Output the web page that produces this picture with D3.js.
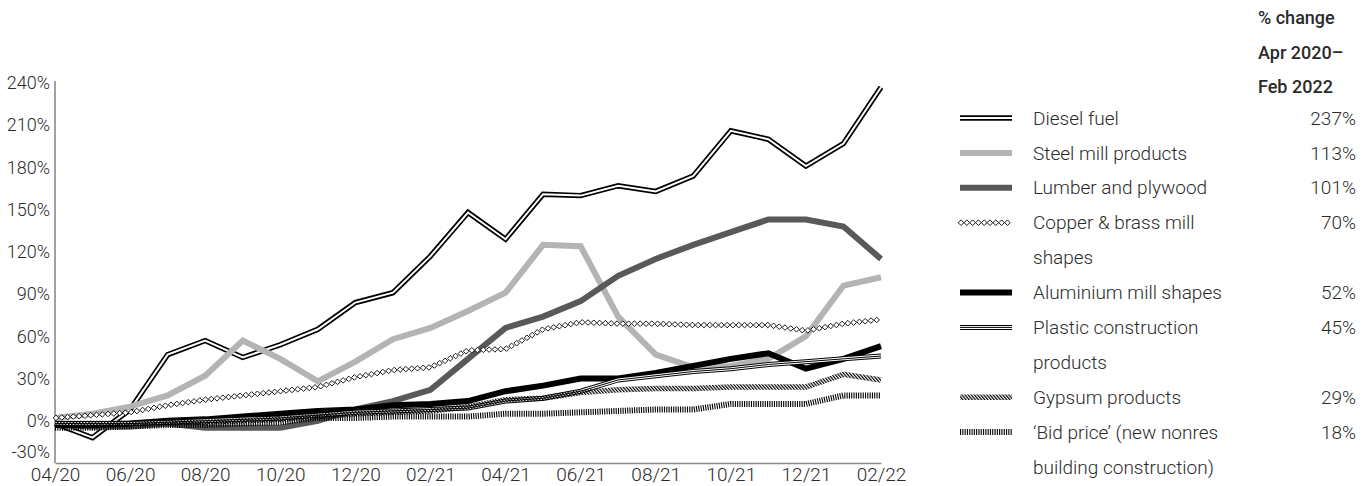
<!DOCTYPE html>
<html>
<head>
<meta charset="utf-8">
<script src="https://cdn.jsdelivr.net/npm/d3@7"></script>
<style>
  body { margin: 0; background: #fff; }
  svg text { font-family: Roboto, "DejaVu Sans", sans-serif; fill: #2b2b2b; }
</style>
</head>
<body>
<div class="chart"></div>
<script>
const width = 1372;
const height = 486;

// month labels, Apr 2020 .. Feb 2022
const months = ['04/20','05/20','06/20','07/20','08/20','09/20','10/20','11/20','12/20','01/21','02/21','03/21',
  '04/21','05/21','06/21','07/21','08/21','09/21','10/21','11/21','12/21','01/22','02/22'];
const xTickLabels = ['04/20','06/20','08/20','10/20','12/20','02/21','04/21','06/21','08/21','10/21','12/21','02/22'];
const yTicks = [-30, 0, 30, 60, 90, 120, 150, 180, 210, 240];

// % change since Apr 2020
const diesel    = [-2, -12, 8, 47, 57, 45, 54, 65, 84, 91, 117, 148, 129, 161, 160, 167, 163, 174, 206, 200, 181, 197, 237];
const steel     = [2, 5, 10, 18, 32, 57, 44, 28, 42, 58, 66, 78, 91, 125, 124, 74, 47, 38, 39, 44, 60, 96, 102];
const lumber    = [-3, -4, -4, -2, -5, -5, -5, 0, 8, 14, 22, 44, 66, 74, 85, 103, 115, 125, 134, 143, 143, 138, 115];
const copper    = [2, 4, 6, 11, 15, 18, 21, 24, 31, 36, 38, 50, 51, 65, 70, 69, 69, 68, 68, 68, 64, 69, 72];
const aluminium = [-3, -3, -2, 0, 1, 3, 5, 7, 8, 11, 12, 14, 21, 25, 30, 30, 34, 39, 44, 48, 37, 44, 53];
const plastic   = [-2, -2, -2, -1, 0, 1, 2, 4, 6, 7, 8, 9, 14, 16, 21, 29, 32, 35, 37, 40, 42, 44, 46];
const gypsum    = [-2, -2, -2, -1, -1, 0, 1, 3, 5, 6, 7, 10, 15, 16, 20, 22, 23, 23, 24, 24, 24, 33, 29];
const bidPrice  = [-5, -5, -4, -3, -3, -2, -1, 2, 2, 3, 3, 3, 5, 5, 6, 7, 8, 8, 12, 12, 12, 18, 18];

const legendNames = [['Diesel fuel'], ['Steel mill products'], ['Lumber and plywood'], ['Copper & brass mill', 'shapes'],
  ['Aluminium mill shapes'], ['Plastic construction', 'products'], ['Gypsum products'],
  ['\u2018Bid price\u2019 (new nonres', 'building construction)']];
const legendChanges = ['237%', '113%', '101%', '70%', '52%', '45%', '29%', '18%'];

const series = [
  { name: 'diesel', values: diesel, style: 'double' },
  { name: 'steel', values: steel, style: 'light' },
  { name: 'lumber', values: lumber, style: 'dark' },
  { name: 'copper', values: copper, style: 'diamond' },
  { name: 'aluminium', values: aluminium, style: 'black' },
  { name: 'plastic', values: plastic, style: 'triple' },
  { name: 'gypsum', values: gypsum, style: 'diag' },
  { name: 'bid', values: bidPrice, style: 'tick' }
];

const svg = d3.select('.chart').append('svg')
  .attr('width', width)
  .attr('height', height);

const defs = svg.append('defs');
defs.append('pattern')
  .attr('id', 'diag')
  .attr('patternUnits', 'userSpaceOnUse')
  .attr('width', 2.4).attr('height', 10)
  .attr('patternTransform', 'rotate(-40)')
  .append('rect')
  .attr('width', 1.2).attr('height', 10)
  .attr('fill', '#000');

const x = d3.scaleLinear().domain([0, 22]).range([55, 881]);
const y = d3.scaleLinear().domain([-30, 240]).range([463, 83]);

// axes
const yAxis = svg.append('g')
  .attr('transform', 'translate(55,0)')
  .call(d3.axisLeft(y).tickValues(yTicks).tickSize(0).tickPadding(5).tickFormat(d => d + '%'));
yAxis.select('.domain').attr('stroke', '#444').attr('stroke-width', 1).attr('d', `M0,${y(240) - 2}V${y(-30)}`);
yAxis.selectAll('text').style('font-size', '18px').style('font-weight', 300).attr('font-family', null);
yAxis.selectAll('.tick').filter(d => d === -30).select('text').attr('dy', '-0.3em');

const xAxis = svg.append('g')
  .attr('transform', `translate(0,${y(-30)})`)
  .call(d3.axisBottom(x).tickValues(d3.range(0, 23, 2)).tickSize(0).tickPadding(4)
    .tickFormat((d, i) => xTickLabels[i]));
xAxis.select('.domain').attr('stroke', '#8a8a8a').attr('stroke-width', 1.5);
xAxis.selectAll('text').style('font-size', '19px').style('font-weight', 300).attr('font-family', null);

const line = d3.line()
  .x((d, i) => x(i))
  .y(d => y(d));

function drawStyled(g, d, style) {
  const add = (stroke, w, extra) => {
    const p = g.append('path').attr('d', d).attr('fill', 'none')
      .attr('stroke', stroke).attr('stroke-width', w)
      .attr('stroke-linejoin', 'miter').attr('stroke-miterlimit', 3);
    if (extra) extra(p);
    return p;
  };
  if (style === 'double') {
    add('#000', 5.4);
    add('#fff', 2);
  } else if (style === 'light') {
    add('#b4b4b4', 6);
  } else if (style === 'dark') {
    add('#595959', 6);
  } else if (style === 'black') {
    add('#000', 6);
  } else if (style === 'triple') {
    add('#000', 5);
    add('#fff', 3);
    add('#000', 1);
  } else if (style === 'diag') {
    add('url(#diag)', 5.5);
  } else if (style === 'tick') {
    add('#000', 6, p => p.attr('stroke-dasharray', '1.1,1.2'));
  } else if (style === 'diamond') {
    const guide = add('none', 1);
    const node = guide.node();
    const len = node.getTotalLength();
    for (let s = 1; s <= len; s += 5.8) {
      const pt = node.getPointAtLength(s);
      g.append('path')
        .attr('d', 'M0,-2.8L2.8,0L0,2.8L-2.8,0Z')
        .attr('transform', `translate(${pt.x},${pt.y})`)
        .attr('fill', '#fff')
        .attr('stroke', '#000')
        .attr('stroke-width', 0.9);
    }
  }
}

// plot lines
const plot = svg.append('g').attr('class', 'lines');
series.forEach(s => {
  drawStyled(plot.append('g').attr('class', s.name), line(s.values), s.style);
});

// legend
const header = svg.append('g').attr('class', 'legend-header');
['% change', 'Apr 2020\u2013', 'Feb 2022'].forEach((t, i) => {
  header.append('text')
    .attr('x', 1258).attr('y', 18 + i * 34.5)
    .attr('dy', '0.35em')
    .style('font-size', '18px').style('font-weight', 500)
    .text(t);
});

const legend = svg.append('g').attr('class', 'legend');
let row = 0;
series.forEach((s, i) => {
  const cy = 118 + row * 34.9;
  const g = legend.append('g');
  drawStyled(g, `M960,${cy}L1012,${cy}`, s.style);
  legendNames[i].forEach((t, j) => {
    g.append('text')
      .attr('x', 1033).attr('y', cy + j * 34.9)
      .attr('dy', '0.35em')
      .style('font-size', '19px').style('font-weight', 300)
      .text(t);
  });
  g.append('text')
    .attr('x', 1356).attr('y', cy)
    .attr('dy', '0.35em')
    .attr('text-anchor', 'end')
    .style('font-size', '19px').style('font-weight', 300)
    .text(legendChanges[i]);
  row += legendNames[i].length;
});
</script>
</body>
</html>
